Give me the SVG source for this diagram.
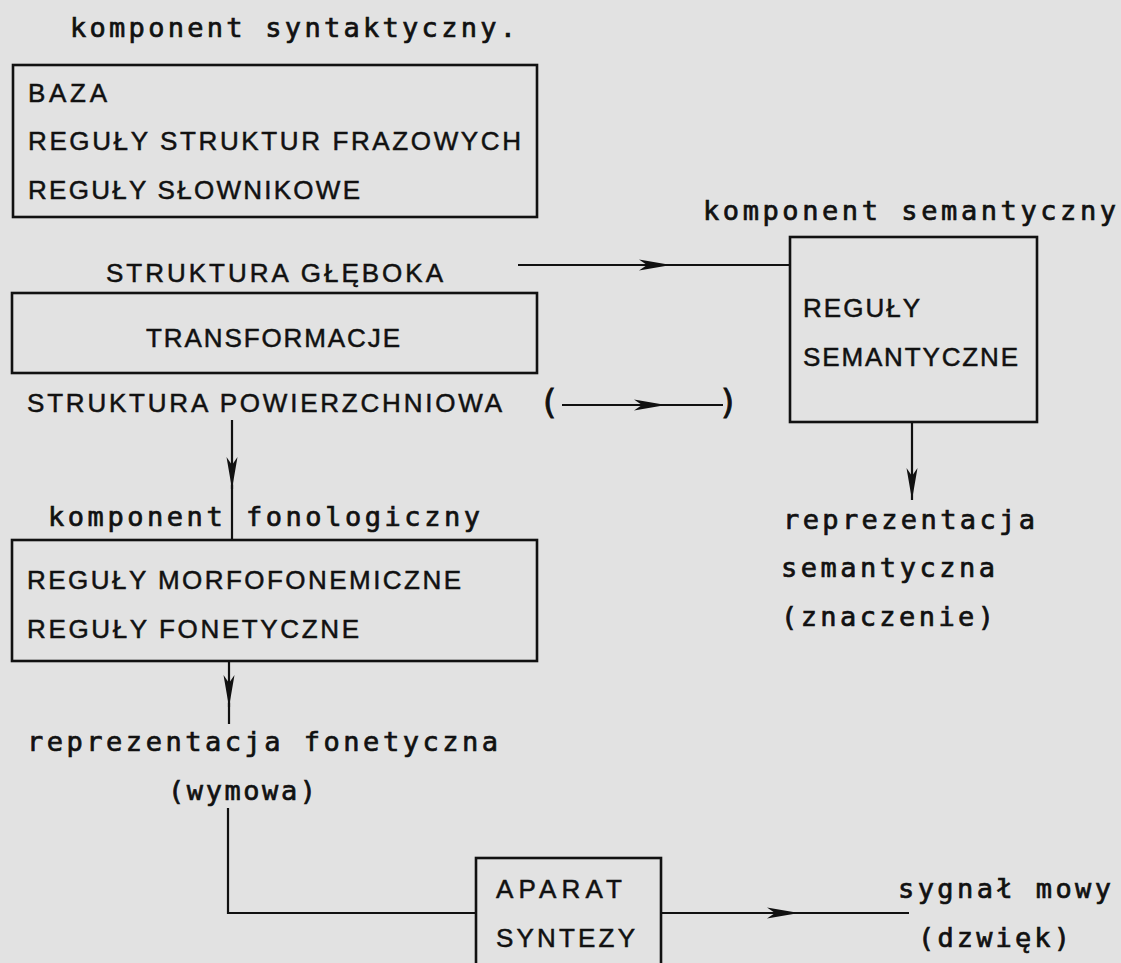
<svg xmlns="http://www.w3.org/2000/svg" width="1121" height="963" viewBox="0 0 1121 963">
<style>
.bg{fill:#e2e2e2}
.box{fill:none;stroke:#111;stroke-width:2.6}
.ln{fill:none;stroke:#111;stroke-width:2.2}
.lc{font-family:"DejaVu Sans Mono","Liberation Mono",monospace;font-size:27px;fill:#111;stroke:#111;stroke-width:0.7}
.uc{font-family:"Liberation Sans","DejaVu Sans",sans-serif;font-size:26px;fill:#111;stroke:#111;stroke-width:0.5}
.par{font-family:"DejaVu Sans","Liberation Sans",sans-serif;font-size:34px;fill:#111;stroke:#111;stroke-width:0.8}
</style>
<defs>
<marker id="ah" markerUnits="userSpaceOnUse" markerWidth="36" markerHeight="14" refX="32" refY="7" orient="auto">
<path d="M0,1.5 L32,7 L0,12.5 L8,7 Z" fill="#111"/>
</marker>
</defs>
<rect class="bg" x="0" y="0" width="1121" height="963"/>

<g id="connectors">
<line class="ln" x1="518" y1="265" x2="671" y2="265" marker-end="url(#ah)"/>
<line class="ln" x1="667" y1="265" x2="790" y2="265"/>
<line class="ln" x1="562" y1="405" x2="666" y2="405" marker-end="url(#ah)"/>
<line class="ln" x1="662" y1="405" x2="723" y2="405"/>
<line class="ln" x1="232" y1="420" x2="232" y2="489" marker-end="url(#ah)"/>
<line class="ln" x1="232" y1="485" x2="232" y2="540"/>
<line class="ln" x1="912" y1="422" x2="912" y2="500" marker-end="url(#ah)"/>
<line class="ln" x1="229" y1="661" x2="229" y2="707" marker-end="url(#ah)"/>
<line class="ln" x1="229" y1="703" x2="229" y2="724"/>
<polyline class="ln" points="228,808 228,913 476,913"/>
<line class="ln" x1="661" y1="913" x2="799" y2="913" marker-end="url(#ah)"/>
<line class="ln" x1="795" y1="913" x2="909" y2="913"/>
</g>

<g id="syntaktyczny">
<text class="lc" x="70" y="37" textLength="446" lengthAdjust="spacing">komponent syntaktyczny.</text>
</g>

<g id="baza">
<rect class="box" x="13" y="65" width="524" height="152"/>
<text class="uc" x="28" y="102" textLength="79" lengthAdjust="spacing">BAZA</text>
<text class="uc" x="28" y="150" textLength="493" lengthAdjust="spacing">REGUŁY STRUKTUR FRAZOWYCH</text>
<text class="uc" x="28" y="199" textLength="332" lengthAdjust="spacing">REGUŁY SŁOWNIKOWE</text>
</g>

<g id="struktura-gleboka">
<text class="uc" x="106" y="282" textLength="337" lengthAdjust="spacing">STRUKTURA GŁĘBOKA</text>
</g>

<g id="transformacje">
<rect class="box" x="12" y="293" width="525" height="80"/>
<text class="uc" x="146" y="347" textLength="254" lengthAdjust="spacing">TRANSFORMACJE</text>
</g>

<g id="struktura-powierzchniowa">
<text class="uc" x="27" y="412" textLength="475" lengthAdjust="spacing">STRUKTURA POWIERZCHNIOWA</text>
<text class="par" x="543" y="414">(</text>
<text class="par" x="721" y="414">)</text>
</g>

<g id="semantyczny">
<text class="lc" x="703" y="220" textLength="413" lengthAdjust="spacing">komponent semantyczny</text>
<rect class="box" x="790" y="237" width="247" height="185"/>
<text class="uc" x="803" y="317" textLength="117" lengthAdjust="spacing">REGUŁY</text>
<text class="uc" x="803" y="366" textLength="215" lengthAdjust="spacing">SEMANTYCZNE</text>
</g>

<g id="repr-semantyczna">
<text class="lc" x="783" y="529" textLength="252" lengthAdjust="spacing">reprezentacja</text>
<text class="lc" x="781" y="577" textLength="214" lengthAdjust="spacing">semantyczna</text>
<text class="lc" x="781" y="626" textLength="213" lengthAdjust="spacing">(znaczenie)</text>
</g>

<g id="fonologiczny">
<text class="lc" x="48" y="526" textLength="432" lengthAdjust="spacing">komponent fonologiczny</text>
<rect class="box" x="12" y="540" width="525" height="121"/>
<text class="uc" x="27" y="589" textLength="434" lengthAdjust="spacing">REGUŁY MORFOFONEMICZNE</text>
<text class="uc" x="27" y="638" textLength="332" lengthAdjust="spacing">REGUŁY FONETYCZNE</text>
</g>

<g id="repr-fonetyczna">
<text class="lc" x="27" y="751" textLength="471" lengthAdjust="spacing">reprezentacja fonetyczna</text>
<text class="lc" x="168" y="800" textLength="148" lengthAdjust="spacing">(wymowa)</text>
</g>

<g id="aparat">
<rect class="box" x="476" y="858" width="185" height="120"/>
<text class="uc" x="496" y="898" textLength="126" lengthAdjust="spacing">APARAT</text>
<text class="uc" x="496" y="947" textLength="139" lengthAdjust="spacing">SYNTEZY</text>
</g>

<g id="sygnal">
<text class="lc" x="898" y="898" textLength="213" lengthAdjust="spacing">sygnał mowy</text>
<text class="lc" x="918" y="947" textLength="152" lengthAdjust="spacing">(dzwięk)</text>
</g>
</svg>
